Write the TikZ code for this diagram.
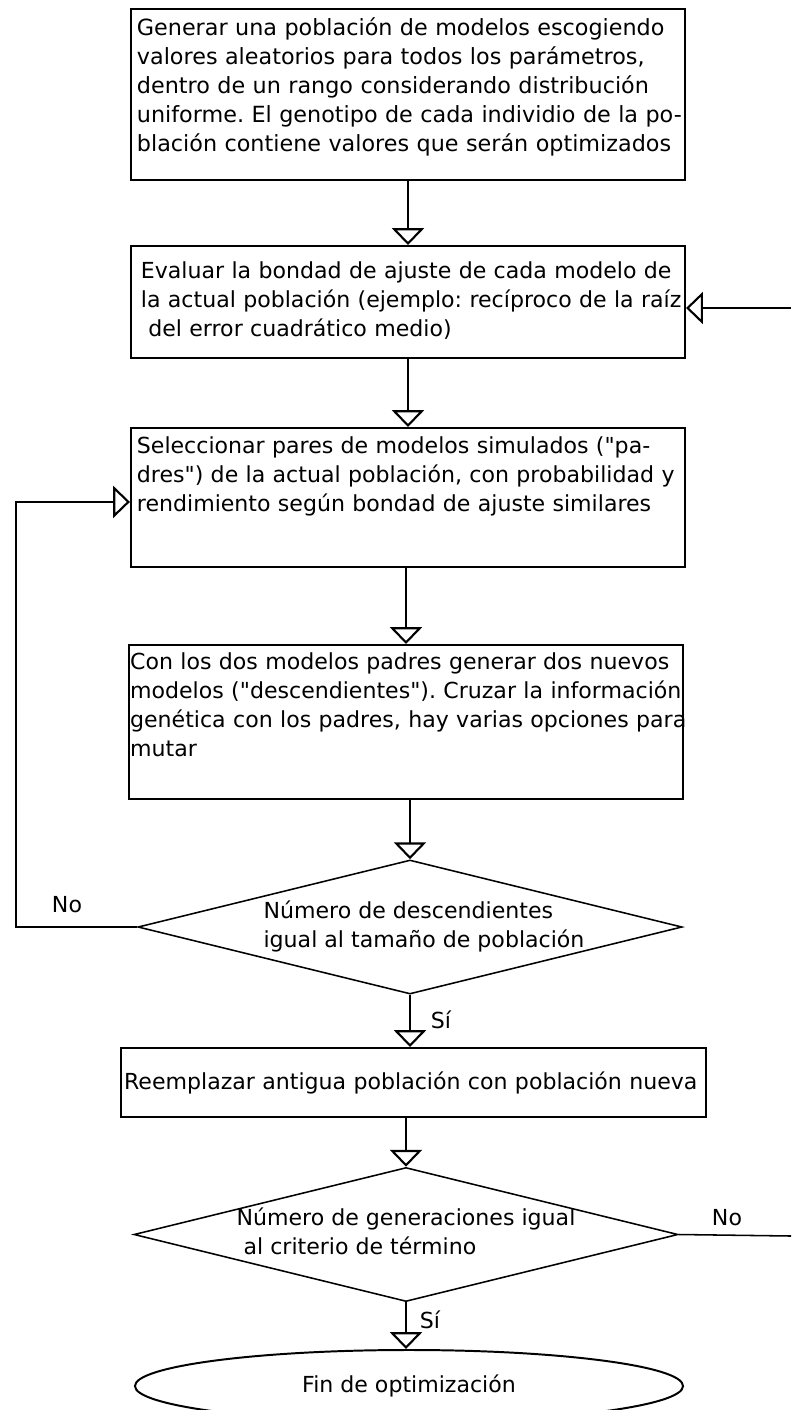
\documentclass[tikz,border=0pt]{standalone}
\usepackage{fontspec}
\setmainfont{DejaVu Sans}
\usepackage{tikz}
\usetikzlibrary{positioning}
\usetikzlibrary{shapes.geometric}
\usetikzlibrary{arrows.meta}
\frenchspacing

\begin{document}
\begin{tikzpicture}[x=0.025cm,y=-0.025cm,
  every node/.style={font=\fontsize{15.7}{20.6}\selectfont},
  proceso/.style={draw=black,line width=1.4pt,rectangle,inner ysep=0pt,align=left},
  decision/.style={draw=black,line width=1.1pt,diamond,aspect=4.05,inner xsep=-1cm,inner ysep=-0.3cm,minimum width=13.6cm,minimum height=3.35cm},
  fin/.style={draw=black,line width=1.4pt,ellipse,inner sep=0pt,minimum width=13.7cm,minimum height=1.8cm},
  flecha/.style={line width=1.1pt,-{Triangle[open,width=0.8cm,length=0.42cm,line width=1.5pt]}}]
  \useasboundingbox (0,0) rectangle (791,1410);
  \node[proceso,font=\fontsize{15.85}{20.6}\selectfont,inner xsep=0.15cm,text width=13.55cm,minimum height=4.275cm](gen) at (408,94.5) {\begin{tabular}{@{}l@{}}
    Generar una población de modelos escogiendo \\
    valores aleatorios para todos los parámetros, \\
    dentro de un rango considerando distribución \\
    uniforme. El genotipo de cada individio de la po- \\
    blación contiene valores que serán optimizados \\[0.35cm]
  \end{tabular}};
  \node[proceso,inner xsep=0.25cm,text width=13.35cm,minimum height=2.8cm](eval) at (408,302) {\begin{tabular}{@{}l@{}}
    Evaluar la bondad de ajuste de cada modelo de \\
    la actual población (ejemplo: recíproco de la raíz \\
    \ del error cuadrático medio)
  \end{tabular}};
  \node[proceso,inner xsep=0.15cm,text width=13.55cm,minimum height=3.475cm](sel) at (408,497.5) {\begin{tabular}{@{}l@{}}
    Seleccionar pares de modelos simulados (\textquotedbl pa- \\
    dres\textquotedbl) de la actual población, con probabilidad y \\
    rendimiento según bondad de ajuste similares \\
    \strut \\[0.3cm]
  \end{tabular}};
  \node[proceso,inner xsep=0.03cm,text width=13.79cm,minimum height=3.85cm](cruce) at (406,722) {\begin{tabular}{@{}l@{}}
    Con los dos modelos padres generar dos nuevos \\
    modelos (\textquotedbl descendientes\textquotedbl). Cruzar la información \\
    genética con los padres, hay varias opciones para \\
    mutar \\
    \strut
  \end{tabular}};
  \node[decision](ndesc) at (410,927) {\begin{tabular}{@{\hspace{0.7cm}}l@{}}
    Número de descendientes \\
    igual al tamaño de población
  \end{tabular}};
  \node[proceso,inner xsep=0.08cm,text width=14.465cm,minimum height=1.725cm](reemp) at (413.5,1082.5) {Reemplazar antigua población con población nueva};
  \node[decision](ngen) at (406,1234.5) {\begin{tabular}{@{}l@{}}
    Número de generaciones igual \\
    \ al criterio de término
  \end{tabular}};
  \node[fin](fin) at (409,1386) {Fin de optimización};
  % etiquetas de las salidas
  \node (no1) at (67,905) {No};
  \node (si1) at (441,1020) {Sí};
  \node (no2) at (727,1218) {No};
  \node (si2) at (430,1320) {Sí};
  % puntos de retorno
  \coordinate (izq) at (16,700);
  \coordinate (derA) at (791,1236);
  \coordinate (derB) at (791,308);
  \draw[flecha] (gen) -- (eval);
  \draw[flecha] (eval) -- (sel);
  \draw[flecha] (cruce.north |- sel.south) -- (cruce.north);
  \draw[flecha] (ndesc.north |- cruce.south) -- (ndesc.north);
  \draw[flecha] (ndesc.south) -- (ndesc.south |- reemp.north);
  \draw[flecha] (ngen.north |- reemp.south) -- (ngen.north);
  \draw[flecha] (ngen.south) -- (ngen.south |- fin.north);
  \draw[flecha] (ndesc.west) -| (izq) |- ([yshift=-0.11cm]sel.west);
  \draw[line width=1.1pt] (ngen.east) -- (derA);
  \draw[flecha] (derB) -- (derB -| eval.east);
\end{tikzpicture}
\end{document}
